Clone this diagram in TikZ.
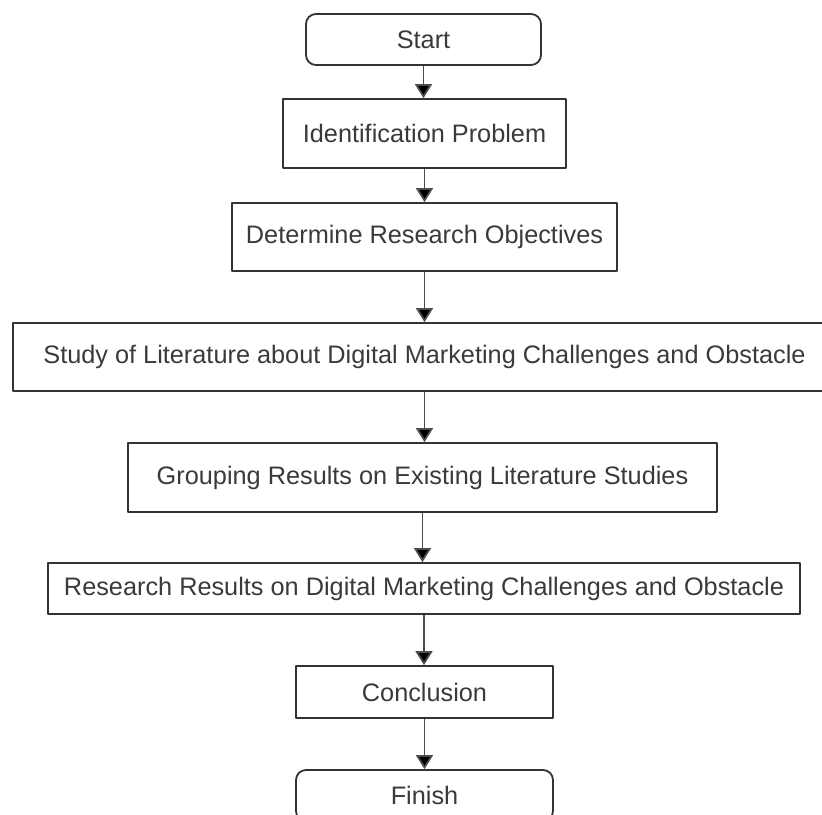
\documentclass[tikz,border=0pt]{standalone}
\usepackage{fontspec}
\setmainfont{Liberation Sans}
\usetikzlibrary{arrows.meta}
\definecolor{boxline}{HTML}{333333}
\definecolor{boxtext}{HTML}{3A3A3A}
\begin{document}
\begin{tikzpicture}[x=1pt,y=-1pt,line join=round,
	font=\fontsize{25.3}{30}\selectfont,
	box/.style={draw=boxline,line width=1.8pt,text=boxtext,inner sep=0pt,minimum width=#1},
	term/.style={box=#1,rounded corners=10pt,minimum height=51pt},
	flow/.style={draw=black!70,line width=1.8pt,-{Triangle[width=17pt,length=14pt,fill=black]}}]
	\clip(0,0)rectangle(822,814);
	\node[term=235pt](start)at(423.5,39.5){Start};
	\node[box=283pt,minimum height=69pt](ident)at(424.5,133.5){Identification Problem};
	\node[box=385pt,minimum height=68pt](objec)at(424.5,237){Determine Research Objectives};
	\node[box=823pt,minimum height=68pt](study)at(424.5,357){Study of Literature about Digital Marketing Challenges and Obstacle};
	\node[box=589pt,minimum height=69pt](group)at(422.5,477.5){Grouping Results on Existing Literature Studies};
	\node[box=752pt,minimum height=51pt](result)at(424,588.5){Research Results on Digital Marketing Challenges and Obstacle};
	\node[box=257pt,minimum height=52pt](concl)at(424.5,692){Conclusion};
	\node[term=257pt](finish)at(424.5,795.5){Finish};
	\foreach \p/\q in{start/ident,ident/objec,objec/study,study/group,group/result,result/concl,concl/finish}
	\draw[flow](\p.south)--(\p.south|-\q.north);
\end{tikzpicture}
\end{document}
